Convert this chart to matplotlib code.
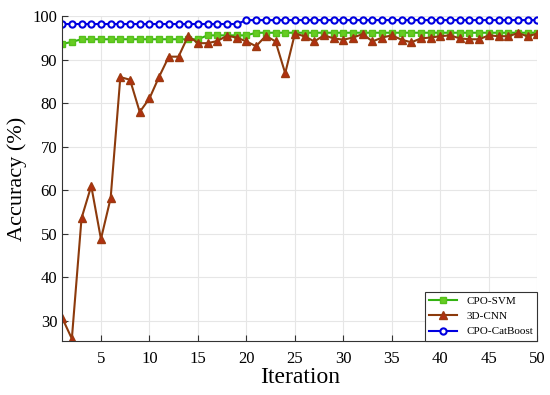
import matplotlib
matplotlib.use("Agg")
from matplotlib import pyplot as plt

plt.rcParams['font.family'] = ['Liberation Serif', 'DejaVu Serif']

iterations = list(range(1, 51))

# CPO-SVM
svm_acc = [93.6, 94.1] + [94.7] * 13 + [95.6] * 5 + [96.2] * 30

# 3D-CNN
cnn_acc = [30.7, 25.9, 53.6, 61.0, 48.8, 58.2, 86.0, 85.4, 78.0, 81.1,
           86.1, 90.7, 90.7, 95.5, 93.8, 93.8, 94.3, 95.5, 95.1, 94.2,
           93.1, 95.5, 94.2, 86.9, 96.0, 95.4, 94.2, 95.6, 94.9, 94.6,
           95.1, 95.9, 94.2, 95.1, 95.6, 94.6, 94.0, 94.9, 95.1, 95.4,
           95.6, 94.9, 94.7, 94.7, 95.6, 95.4, 95.4, 96.1, 95.4, 96.0]

# CPO-CatBoost
cat_acc = [98.2] * 19 + [99.1] * 31

fig = plt.figure(figsize=(5.5, 3.95), dpi=100)
ax = fig.add_axes([0.113, 0.137, 0.864, 0.822])

ax.plot(iterations, svm_acc, '-s', color='#33b312', markerfacecolor='#66cc22',
        markeredgecolor='#55c01a', markersize=4.5, linewidth=1.5, label='CPO-SVM')
ax.plot(iterations, cnn_acc, '-^', color='#8c3a0c', markerfacecolor='#b23010',
        markeredgecolor='#9c3a10', markersize=6, linewidth=1.5, label='3D-CNN')
ax.plot(iterations, cat_acc, '-o', color='#0000e0', markerfacecolor='white',
        markeredgecolor='#0000e0', markersize=4.5, markeredgewidth=1.5,
        linewidth=1.5, label='CPO-CatBoost')

ax.set_xlim(1, 50)
ax.set_ylim(25.4, 100)
ax.set_xticks(range(5, 51, 5))
ax.set_yticks(range(30, 101, 10))
ax.tick_params(direction='in', labelsize=12, length=4, color='#333333')
ax.tick_params(axis='x', pad=7)
ax.grid(True, color='#e6e6e6', linewidth=0.8)
ax.set_axisbelow(True)
ax.spines['top'].set_visible(False)
ax.spines['right'].set_visible(False)
for s in ['left', 'bottom']:
    ax.spines[s].set_color('#333333')

ax.set_xlabel('Iteration', fontsize=17, labelpad=0)
ax.set_ylabel('Accuracy (%)', fontsize=16, labelpad=4)

leg = ax.legend(loc='lower right', fontsize=8, fancybox=False, framealpha=1,
                edgecolor='#333333', borderaxespad=0, handlelength=2.5)
leg.get_frame().set_linewidth(0.8)

fig.savefig('out.png', dpi=100)
